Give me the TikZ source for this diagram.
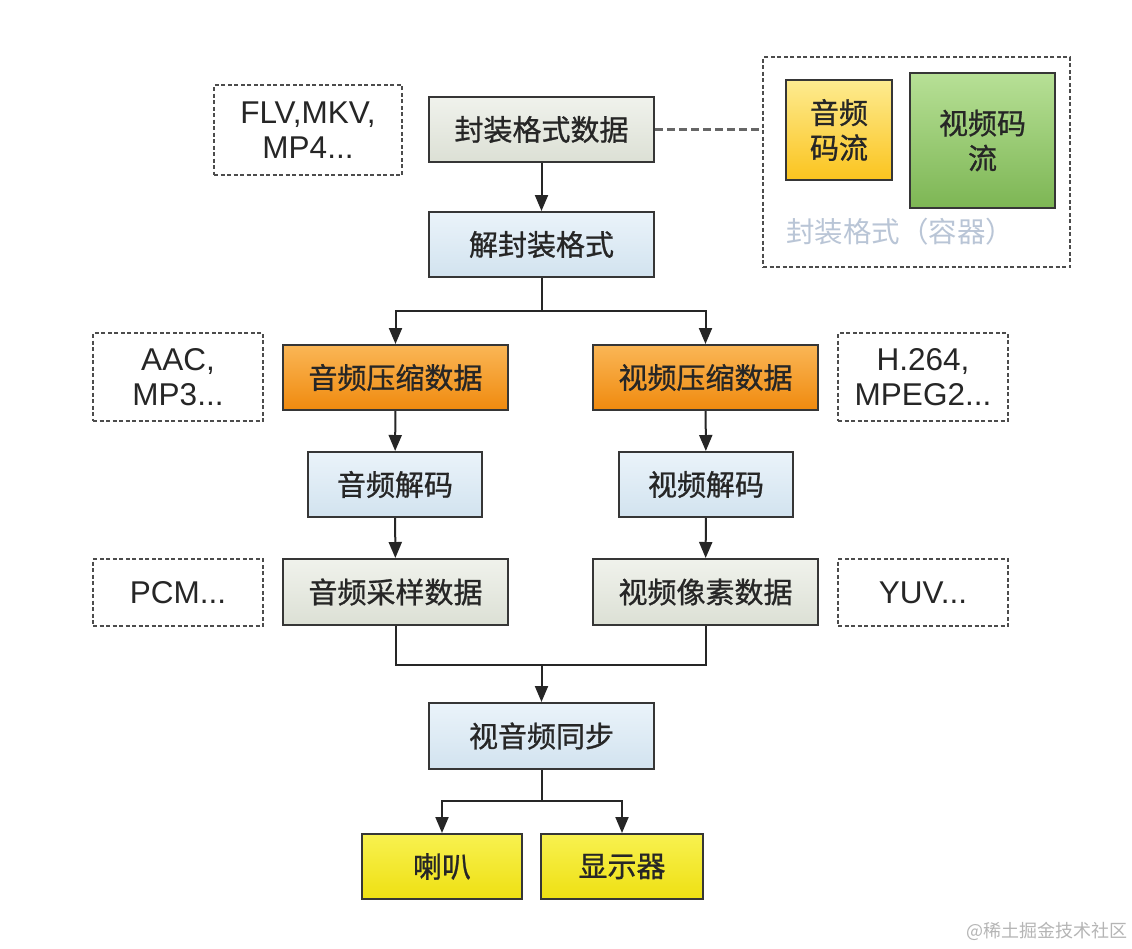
\documentclass[tikz,border=0pt]{standalone}
\usepackage{fontspec}
\usepackage{tikz}
\usetikzlibrary{arrows.meta}
\setmainfont{Liberation Sans}
\newfontfamily\cjk{Noto Sans CJK SC}[FakeBold=0.9]
\newfontfamily\cjklight{Noto Sans CJK SC}

\definecolor{boxline}{HTML}{363636}
\definecolor{greytop}{HTML}{F0F2EC}
\definecolor{greybot}{HTML}{DCE0D5}
\definecolor{bluetop}{HTML}{EAF3FA}
\definecolor{bluebot}{HTML}{D2E3EF}
\definecolor{orgtop}{HTML}{FAB656}
\definecolor{orgbot}{HTML}{F08A0E}
\definecolor{ambtop}{HTML}{FDEB90}
\definecolor{ambbot}{HTML}{FBC41E}
\definecolor{grntop}{HTML}{B7E096}
\definecolor{grnbot}{HTML}{7DB654}
\definecolor{yeltop}{HTML}{F8F150}
\definecolor{yelbot}{HTML}{EEE012}
\definecolor{cntlabel}{HTML}{B9C5D6}
\definecolor{wmark}{HTML}{B5B5B5}

\tikzset{
	stage/.style={draw=boxline, line width=2pt, minimum width=225pt, minimum height=65pt,
		inner sep=0pt, font=\cjk\fontsize{29}{34}\selectfont, text=black!85},
	greybox/.style={stage, top color=greytop, bottom color=greybot},
	bluebox/.style={stage, top color=bluetop, bottom color=bluebot},
	orgbox/.style={stage, top color=orgtop, bottom color=orgbot},
	yelbox/.style={stage, top color=yeltop, bottom color=yelbot},
	fmtnote/.style={draw=black!70, line width=1.8pt, dash pattern=on 4pt off 2.5pt,
		minimum width=170pt, inner sep=0pt, align=center,
		font=\fontsize{31.5}{35}\selectfont, text=black!85},
	arr/.style={line width=2pt, draw=black!85, -{Triangle[length=16pt,width=13pt]}},
	link/.style={line width=2pt, draw=black!85},
}

\begin{document}
\begin{tikzpicture}[x=1pt,y=-1pt]
	\fill[white] (0,0) rectangle (1132,948);
	\useasboundingbox (0,0) rectangle (1132,948);

	% container
	\node[draw=black!70, line width=1.8pt, dash pattern=on 4pt off 2.5pt,
		minimum width=307pt, minimum height=210pt] (cont) at (916.5,162) {};
	\node[draw=boxline, line width=2pt, top color=ambtop, bottom color=ambbot,
		minimum width=106pt, minimum height=100pt, inner sep=0pt, align=center,
		font=\cjk\fontsize{29}{35}\selectfont, text=black!85] (astream) at (839,130) {音频\\码流};
	\node[draw=boxline, line width=2pt, top color=grntop, bottom color=grnbot,
		minimum width=145pt, minimum height=135pt, inner sep=0pt, align=center,
		font=\cjk\fontsize{29}{35}\selectfont, text=black!85] (vstream) at (982.5,140.5) {视频码\\流};
	\node[text=cntlabel, font=\cjklight\fontsize{28.5}{32}\selectfont] (clabel) at (900,232) {封装格式（容器）};

	% main chain
	\node[greybox] (fmt) at (541.5,129.5) {封装格式数据};
	\node[bluebox] (demux) at (541.5,244.5) {解封装格式};
	\node[orgbox] (acomp) at (395.5,377.5) {音频压缩数据};
	\node[orgbox] (vcomp) at (705.5,377.5) {视频压缩数据};
	\node[bluebox, minimum width=174pt] (adec) at (395,484.5) {音频解码};
	\node[bluebox, minimum width=174pt] (vdec) at (706,484.5) {视频解码};
	\node[greybox, minimum height=66pt] (araw) at (395.5,592) {音频采样数据};
	\node[greybox, minimum height=66pt] (vraw) at (705.5,592) {视频像素数据};
	\node[bluebox, minimum height=66pt] (sync) at (541.5,736) {视音频同步};
	\node[yelbox, minimum width=160pt] (spk) at (442,866.5) {喇叭};
	\node[yelbox, minimum width=162pt] (disp) at (622,866.5) {显示器};

	% format notes
	\node[fmtnote, minimum width=188pt, minimum height=90pt] (flv) at (308,130) {FLV,MKV,\\MP4...};
	\node[fmtnote, minimum height=88pt] (aac) at (178,377) {AAC,\\MP3...};
	\node[fmtnote, minimum height=88pt] (h264) at (923,377) {H.264,\\MPEG2...};
	\node[fmtnote, minimum height=67pt] (pcm) at (178,592.5) {PCM...};
	\node[fmtnote, minimum height=67pt] (yuv) at (923,592.5) {YUV...};

	% connectors
	\draw[link, line width=2.4pt, dash pattern=on 8pt off 4pt, draw=black!60] (fmt.east) -- (cont.west |- fmt.east);
	\draw[arr] (fmt) -- (demux);
	\draw[link] (demux.south) -- ++(0,33) coordinate (split1);
	\draw[arr] (split1) -| (acomp.north);
	\draw[arr] (split1) -| (vcomp.north);
	\draw[arr] (acomp) -- (adec);
	\draw[arr] (vcomp) -- (vdec);
	\draw[arr] (adec) -- (araw);
	\draw[arr] (vdec) -- (vraw);
	\coordinate (merge) at (sync.north |- 0,665);
	\draw[link] (araw.south) |- (merge) -| (vraw.south);
	\draw[arr] (merge) -- (sync);
	\draw[link] (sync.south) -- ++(0,31) coordinate (split2);
	\draw[arr] (split2) -| (spk.north);
	\draw[arr] (split2) -| (disp.north);

	% watermark
	\node[text=wmark, font=\cjklight\fontsize{18}{20}\selectfont] (wm) at (1047,931) {@稀土掘金技术社区};
\end{tikzpicture}
\end{document}
